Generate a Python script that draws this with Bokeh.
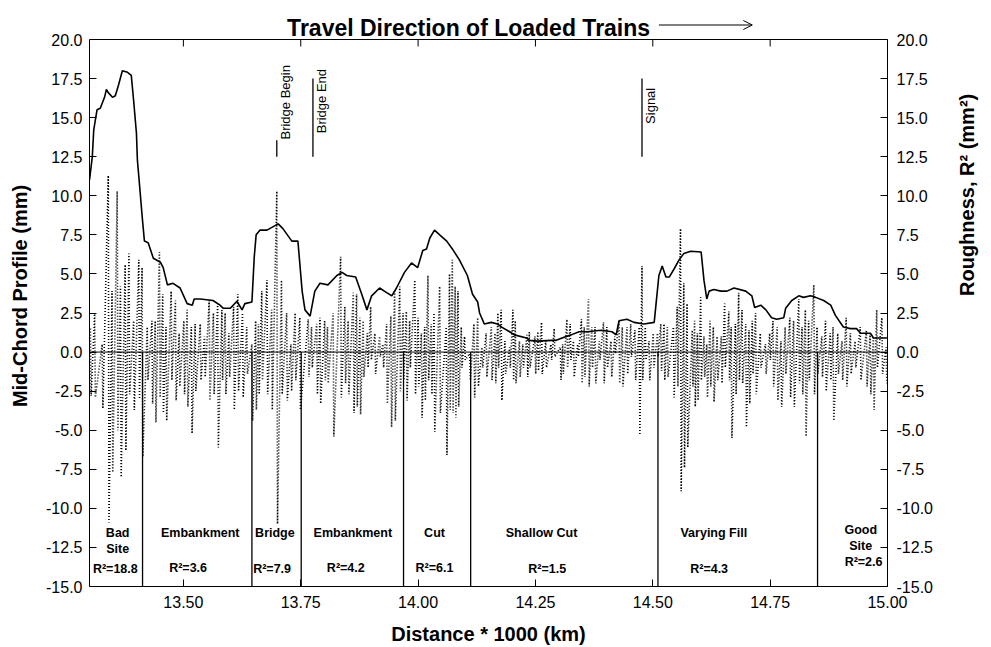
import math
from bokeh.plotting import figure
from bokeh.models import (LinearAxis, Range1d, FixedTicker, PrintfTickFormatter,
                          Span, Arrow, OpenHead, ColumnDataSource, Grid, Label)
from bokeh.core.properties import value
from bokeh.embed import file_html
from bokeh.resources import INLINE

FONT = "Liberation Sans"

# ---------------- data ----------------
x_ticks = [13.50, 13.75, 14.00, 14.25, 14.50, 14.75, 15.00]
y_ticks = [-15.0, -12.5, -10.0, -7.5, -5.0, -2.5, 0.0, 2.5, 5.0, 7.5, 10.0, 12.5, 15.0, 17.5, 20.0]

# Roughness (solid line)
rough_x = [13.300, 13.306, 13.309, 13.316, 13.323, 13.332, 13.336, 13.340, 13.349, 13.355,
           13.362, 13.370, 13.381, 13.389, 13.394, 13.400, 13.402, 13.406, 13.413, 13.417,
           13.425, 13.436, 13.451, 13.457, 13.466, 13.478, 13.493, 13.502, 13.508, 13.519,
           13.523, 13.536, 13.563, 13.578, 13.585, 13.600, 13.614, 13.625, 13.631, 13.646,
           13.651, 13.655, 13.663, 13.678, 13.702, 13.712, 13.731, 13.744, 13.753, 13.759,
           13.770, 13.780, 13.791, 13.808, 13.827, 13.838, 13.848, 13.867, 13.880, 13.891,
           13.901, 13.918, 13.933, 13.944, 13.954, 13.971, 13.986, 13.999, 14.010, 14.018,
           14.025, 14.035, 14.046, 14.061, 14.073, 14.088, 14.105, 14.116, 14.127, 14.131,
           14.141, 14.156, 14.169, 14.178, 14.195, 14.205, 14.231, 14.237, 14.254, 14.284,
           14.294, 14.311, 14.326, 14.343, 14.360, 14.390, 14.413, 14.422, 14.428, 14.445,
           14.460, 14.481, 14.503, 14.507, 14.513, 14.520, 14.528, 14.535, 14.545, 14.556,
           14.566, 14.581, 14.603, 14.609, 14.615, 14.620, 14.630, 14.645, 14.658, 14.673,
           14.698, 14.711, 14.717, 14.730, 14.741, 14.753, 14.764, 14.779, 14.783, 14.796,
           14.811, 14.821, 14.836, 14.847, 14.864, 14.879, 14.889, 14.906, 14.921, 14.934,
           14.943, 14.964, 14.970, 15.000]
rough_y = [11.0, 12.5, 14.2, 15.5, 15.6, 16.3, 16.8, 16.6, 16.3, 16.4,
           17.1, 18.0, 17.9, 17.7, 16.1, 14.0, 12.3, 10.9, 8.4, 7.1,
           7.0, 6.0, 5.75, 5.4, 4.3, 4.4, 4.1, 3.5, 3.1, 3.0,
           3.4, 3.4, 3.3, 3.0, 2.8, 2.8, 3.25, 2.7, 3.1, 3.2,
           6.1, 7.5, 7.8, 7.8, 8.2, 7.9, 7.1, 7.1, 3.9, 2.7,
           2.3, 3.9, 4.4, 4.3, 4.9, 5.1, 4.9, 4.8, 3.7, 2.7,
           3.6, 4.1, 3.8, 3.6, 4.1, 5.1, 5.7, 5.4, 6.5, 6.6,
           7.3, 7.8, 7.5, 7.1, 6.6, 5.9, 4.9, 3.7, 3.2, 2.5,
           1.8, 1.9, 1.8, 1.6, 1.3, 1.1, 0.9, 0.75, 0.7, 0.75,
           0.75, 0.95, 1.1, 1.3, 1.3, 1.4, 1.3, 1.1, 2.0, 2.1,
           1.9, 1.8, 1.9, 3.1, 4.9, 5.5, 4.8, 4.8, 5.3, 5.9,
           6.3, 6.45, 6.4, 4.6, 3.4, 3.9, 4.0, 3.9, 3.9, 4.1,
           3.9, 3.6, 2.85, 3.0, 2.7, 2.2, 2.1, 2.2, 2.8, 3.3,
           3.6, 3.5, 3.6, 3.5, 3.3, 3.0, 2.35, 1.6, 1.5, 1.5,
           1.2, 1.2, 0.9, 0.9]

# Mid-chord profile (dotted line): crest and trough of each oscillation
prof_x = [13.302, 13.311, 13.327, 13.340, 13.348, 13.359, 13.366, 13.376, 13.384, 13.394,
          13.405, 13.412, 13.423, 13.433, 13.440, 13.449, 13.456, 13.463, 13.474, 13.483,
          13.491, 13.501, 13.508, 13.517, 13.525, 13.536, 13.545, 13.555, 13.564, 13.573,
          13.582, 13.589, 13.597, 13.607, 13.616, 13.626, 13.635, 13.646, 13.654, 13.660,
          13.667, 13.678, 13.688, 13.699, 13.709, 13.720, 13.729,
          13.738, 13.748, 13.766, 13.773, 13.784, 13.791, 13.801, 13.807, 13.819, 13.835,
          13.844, 13.851, 13.862, 13.869, 13.876, 13.883, 13.892, 13.899, 13.908, 13.918,
          13.925, 13.933, 13.942, 13.950, 13.961, 13.968, 13.975, 13.982, 13.993, 14.000,
          14.007, 14.014, 14.021, 14.028, 14.034, 14.046, 14.060, 14.067, 14.073, 14.079,
          14.085, 14.092, 14.099, 14.110, 14.119, 14.127, 14.136, 14.145,
          14.156, 14.164, 14.170, 14.177, 14.185, 14.195, 14.202, 14.207, 14.216, 14.223,
          14.232, 14.237, 14.249, 14.255, 14.263, 14.272, 14.283, 14.290, 14.303, 14.308,
          14.317, 14.324, 14.331, 14.340, 14.348, 14.354, 14.363, 14.370, 14.377, 14.386,
          14.395, 14.402, 14.411, 14.419, 14.428, 14.435, 14.445, 14.453, 14.462, 14.471,
          14.477, 14.484, 14.492, 14.501, 14.510, 14.517, 14.524, 14.531, 14.544, 14.552,
          14.559, 14.566, 14.573,
          14.584, 14.589, 14.595, 14.602, 14.609, 14.615, 14.622, 14.629, 14.637, 14.646,
          14.653, 14.662, 14.667, 14.676, 14.683, 14.690, 14.698, 14.705, 14.712, 14.719,
          14.729, 14.740, 14.749, 14.756, 14.765, 14.773, 14.782, 14.792, 14.800, 14.811,
          14.818, 14.825, 14.832, 14.843, 14.850, 14.860, 14.868, 14.878, 14.884, 14.894,
          14.903, 14.912, 14.921, 14.931, 14.942, 14.955, 14.963, 14.970, 14.977, 14.988,
          14.997]
prof_hi = [1.5, 2.45, 0.5, 11.3, 3.9, 10.3, 4.2, 5.6, 6.3, 2.0,
           5.9, 5.4, 1.6, 2.0, 2.0, 6.4, 3.7, 1.6, 3.9, 3.3,
           1.2, 2.0, 2.7, 1.6, 1.8, 1.8, 1.0, 3.3, 2.5, 3.1,
           2.7, 2.5, 1.2, 2.9, 3.7, 2.5, 1.6, 0.5, 2.0, 1.8,
           3.9, 4.6, 2.7, 10.3, 4.6, 2.5, 0.5,
           2.5, 2.2, 2.1, 1.6, 1.8, 2.2, 2.0, 1.6, 2.5, 6.1,
           2.9, 2.0, 3.8, 3.7, 2.2, 2.0, 1.2, 2.9, 1.2, 1.0,
           0.5, 1.8, 2.3, 3.9, 4.2, 2.5, 2.6, 2.0, 4.6, 2.2,
           1.2, 1.6, 4.9, 1.8, 2.5, 4.2, 1.6, 5.0, 5.9, 4.2,
           3.9, 1.6, 1.0, -0.1, 1.8, 2.2, 0.3, 1.2,
           1.6, 1.2, 2.5, 2.7, 0.7, 0.3, 2.7, 2.0, 0.7, 0.5,
           1.1, 1.3, 1.0, 1.3, 1.9, 0.7, 0.5, 1.5, 0.3, 0.5,
           2.1, 1.8, 0.7, 0.5, 2.1, 1.6, 3.4, 1.6, 1.6, 0.7,
           1.9, 1.6, 0.7, 1.0, 2.0, 1.6, 1.6, 1.8, 1.4, 1.6,
           5.5, 1.6, 0.7, 1.2, 1.2, 1.8, 1.8, 1.6, 1.6, 2.9,
           7.9, 4.4, 3.1,
           1.4, 2.0, 1.2, 3.5, 1.0, 0.5, 2.0, 1.6, 1.0, 1.0,
           3.1, 2.6, 1.6, 1.8, 3.8, 2.7, 1.8, 1.4, 2.0, 2.5,
           1.2, 0.5, 1.2, 2.0, 1.6, 0.7, 1.6, 2.2, 2.0, 3.4,
           1.6, 2.7, 2.0, 4.3, 1.6, 1.0, 2.0, 1.2, 1.6, 1.2,
           0.7, 2.2, 1.2, 0.7, 1.6, 1.4, 1.2, 1.0, 2.7, 2.2,
           0.3]
prof_lo = [-2.8, -2.9, -3.6, -10.9, -7.7, -5.0, -8.0, -6.3, -2.7, -3.7,
           -3.0, -6.7, -1.8, -3.3, -4.5, -2.9, -3.9, -4.4, -1.8, -3.1,
           -2.2, -2.7, -3.5, -5.2, -2.5, -1.8, -1.6, -3.1, -2.7, -6.1,
           -1.8, -2.7, -1.6, -3.7, -2.5, -2.9, -1.4, -4.4, -3.7, -2.7,
           -1.8, -2.7, -3.7, -11.0, -2.7, -3.1, -2.5,
           -1.8, -3.7, -1.6, -1.0, -2.7, -3.3, -1.8, -2.0, -5.4, -2.9,
           -2.0, -2.7, -3.9, -3.5, -4.0, -1.6, -1.0, -0.5, -1.4, -0.3,
           -1.0, -3.3, -4.8, -4.4, -2.5, -1.8, -3.1, -1.0, -2.7, -2.2,
           -4.2, -3.1, -1.8, -2.7, -5.1, -3.9, -6.6, -3.7, -3.9, -4.2,
           -3.5, -1.0, -0.5, -1.8, -2.9, -2.2, -1.0, -1.6,
           -1.8, -2.0, -1.0, -3.1, -1.4, -1.0, -1.8, -2.0, -1.6, -1.0,
           -1.6, -1.0, -1.4, -1.2, -1.4, -1.0, -0.5, -0.3, -1.8, -1.4,
           -1.0, -0.5, -1.6, -0.3, -2.0, -1.6, -2.2, -1.0, -2.0, -0.5,
           -2.0, -1.0, -1.6, -0.1, -2.0, -2.2, -1.4, -0.3, -1.8, -5.3,
           -1.8, -0.5, -1.8, -1.0, -0.3, -1.2, -1.8, -1.6, -2.9, -2.2,
           -8.9, -7.4, -6.1,
           -2.2, -3.5, -3.1, -1.8, -1.6, -2.9, -2.2, -3.2, -1.8, -2.0,
           -1.0, -1.8, -5.5, -2.7, -1.8, -2.0, -4.8, -3.3, -1.4, -2.7,
           -1.0, -1.4, -0.5, -2.2, -3.1, -3.5, -1.4, -2.9, -3.5, -2.0,
           -2.7, -5.4, -1.8, -2.7, -1.4, -1.6, -2.5, -1.8, -4.4, -1.4,
           -1.8, -2.2, -1.4, -1.0, -1.8, -2.2, -2.7, -3.7, -1.0, -1.4,
           -2.0]

# Track sections
section_bounds = [13.413, 13.646, 13.751, 13.969, 14.112, 14.511, 14.851]
section_names = ["Bad Site", "Embankment", "Bridge", "Embankment", "Cut",
                 "Shallow Cut", "Varying Fill", "Good Site"]
section_r2 = [18.8, 3.6, 7.9, 4.2, 6.1, 1.5, 4.3, 2.6]

# Track events
event_names = ["Bridge Begin", "Bridge End", "Signal"]
event_x = [13.699, 13.776, 14.477]

TITLE = "Travel Direction of Loaded Trains"

# ---------------- layout / style positions ----------------
name_x = [13.360, 13.536, 13.695, 13.861, 14.035, 14.263, 14.630, 14.943]
name_y = [-12.09, -11.57, -11.6, -11.57, -11.6, -11.57, -11.57, -11.9]
r2_x = [13.355, 13.510, 13.689, 13.846, 14.035, 14.275, 14.620, 14.949]
r2_y = [-13.85, -13.8, -13.85, -13.8, -13.8, -13.85, -13.85, -13.45]
event_line_top = [13.55, 17.5, 17.5]
event_text_y = [13.6, 14.0, 14.6]

X0, X1, Y0, Y1 = 13.3, 15.0, -15.0, 20.0
W, H = 991, 647
FRAME_L, FRAME_R, AXIS_TOP, FRAME_B = 89, 889, 39, 586   # pixel layout
TOP_BORDER = 5
ppu = (FRAME_B - AXIS_TOP) / (Y1 - Y0)          # pixels per y unit
Y_TOP = Y1 + (AXIS_TOP - TOP_BORDER) / ppu       # headroom for title and arrow


def ypx(py):
    """y value of a pixel row above the axes box (header region)."""
    return Y1 + (AXIS_TOP - py) / ppu


p = figure(width=W, height=H, output_backend="svg", toolbar_location=None,
           x_range=Range1d(X0, X1), y_range=Range1d(Y0, Y_TOP),
           x_axis_location=None, y_axis_location=None,
           min_border_left=FRAME_L, min_border_right=W - FRAME_R, min_border_top=TOP_BORDER,
           min_border_bottom=H - FRAME_B, background_fill_color="white",
           border_fill_color="white")
p.center = [c for c in p.center if not isinstance(c, Grid)]
p.extra_y_ranges = {"r": Range1d(Y0, Y_TOP)}
p.outline_line_color = None
p.title.text = ""
p.title.standoff = 0


def style_axis(ax, ticks, fmt):
    ax.ticker = FixedTicker(ticks=ticks)
    ax.formatter = PrintfTickFormatter(format=fmt)
    ax.major_tick_in = 7
    ax.major_tick_out = 0
    ax.minor_tick_in = 0
    ax.minor_tick_out = 0
    ax.major_tick_line_color = "black"
    ax.axis_line_color = "black"
    ax.major_label_text_font = FONT
    ax.major_label_text_font_size = "16px"
    ax.major_label_text_color = "black"
    ax.axis_label_text_font = FONT
    ax.axis_label_text_font_style = "bold"
    ax.axis_label_text_font_size = "20px"
    ax.axis_label_text_color = "black"


left = LinearAxis(axis_label="Mid-Chord Profile (mm)", bounds=(Y0, Y1))
style_axis(left, y_ticks, "%.1f")
left.major_label_standoff = 7
left.axis_label_standoff = 12
p.add_layout(left, "left")

right = LinearAxis(y_range_name="r", axis_label="Roughness, R\u00b2 (mm\u00b2)", bounds=(Y0, Y1))
style_axis(right, y_ticks, "%.1f")
right.major_label_standoff = 9
right.axis_label_standoff = 31
try:
    right.axis_label_orientation = math.pi / 2
except Exception:
    pass
p.add_layout(right, "right")

bottom = LinearAxis(axis_label="Distance * 1000 (km)")
style_axis(bottom, x_ticks, "%.2f")
bottom.major_label_standoff = 9
bottom.axis_label_standoff = 12
p.add_layout(bottom, "below")

# top edge of the axes box with inward ticks
p.add_layout(Span(location=Y1, dimension="width", line_color="black", line_width=1))
tick_len = 7 / ppu
p.segment(x0=x_ticks, y0=[Y1] * len(x_ticks), x1=x_ticks, y1=[Y1 - tick_len] * len(x_ticks),
          line_color="black", line_width=1)

# zero line
p.add_layout(Span(location=0, dimension="width", line_color="black", line_width=1))

# profile dotted line: crest then trough for each oscillation
px, py = [], []
for xx, hi, lo in zip(prof_x, prof_hi, prof_lo):
    px.extend([xx, xx + 0.0015])
    py.extend([hi, lo])
p.line(px, py, line_color="black", line_width=1.6, line_dash="1 2")

# roughness solid line
p.line(rough_x, rough_y, line_color="black", line_width=1.6)

# section boundaries
p.segment(x0=section_bounds, y0=[Y0] * len(section_bounds),
          x1=section_bounds, y1=[0] * len(section_bounds),
          line_color="black", line_width=1.3)

# section labels
src_names = ColumnDataSource(dict(x=name_x, y=name_y,
                                  t=[n.replace(" Site", "\nSite") for n in section_names]))
p.text(x="x", y="y", text="t", source=src_names, text_font=value(FONT),
       text_font_size=value("12.5px"), text_font_style="bold", text_align="center",
       text_baseline="middle", text_color="black", text_line_height=1.2)
src_r2 = ColumnDataSource(dict(x=r2_x, y=r2_y,
                               t=["R\u00b2=%.1f" % v for v in section_r2]))
p.text(x="x", y="y", text="t", source=src_r2, text_font=value(FONT),
       text_font_size=value("12.5px"), text_font_style="bold", text_align="center",
       text_baseline="middle", text_color="black")

# events
p.segment(x0=event_x, y0=[12.5] * len(event_x), x1=event_x, y1=event_line_top,
          line_color="black", line_width=1.3)
src_ev = ColumnDataSource(dict(x=[x + 0.002 for x in event_x], y=event_text_y, t=event_names))
p.text(x="x", y="y", text="t", source=src_ev, angle=math.pi / 2,
       text_font=value(FONT), text_font_size=value("13px"), text_align="left",
       text_baseline="top", text_color="black")

# title and travel-direction arrow
p.add_layout(Label(x=13.721, y=ypx(27), text=TITLE, text_font=FONT, text_font_size="23px",
                   text_font_style="bold", text_baseline="alphabetic",
                   text_align="left", text_color="black"))
p.add_layout(Arrow(end=OpenHead(size=9, line_width=1, line_color="black"),
                   x_start=14.513, y_start=ypx(24.5), x_end=14.712, y_end=ypx(24.5),
                   line_width=1, line_color="black"))

open("out.html", "w").write(file_html(p, INLINE))
